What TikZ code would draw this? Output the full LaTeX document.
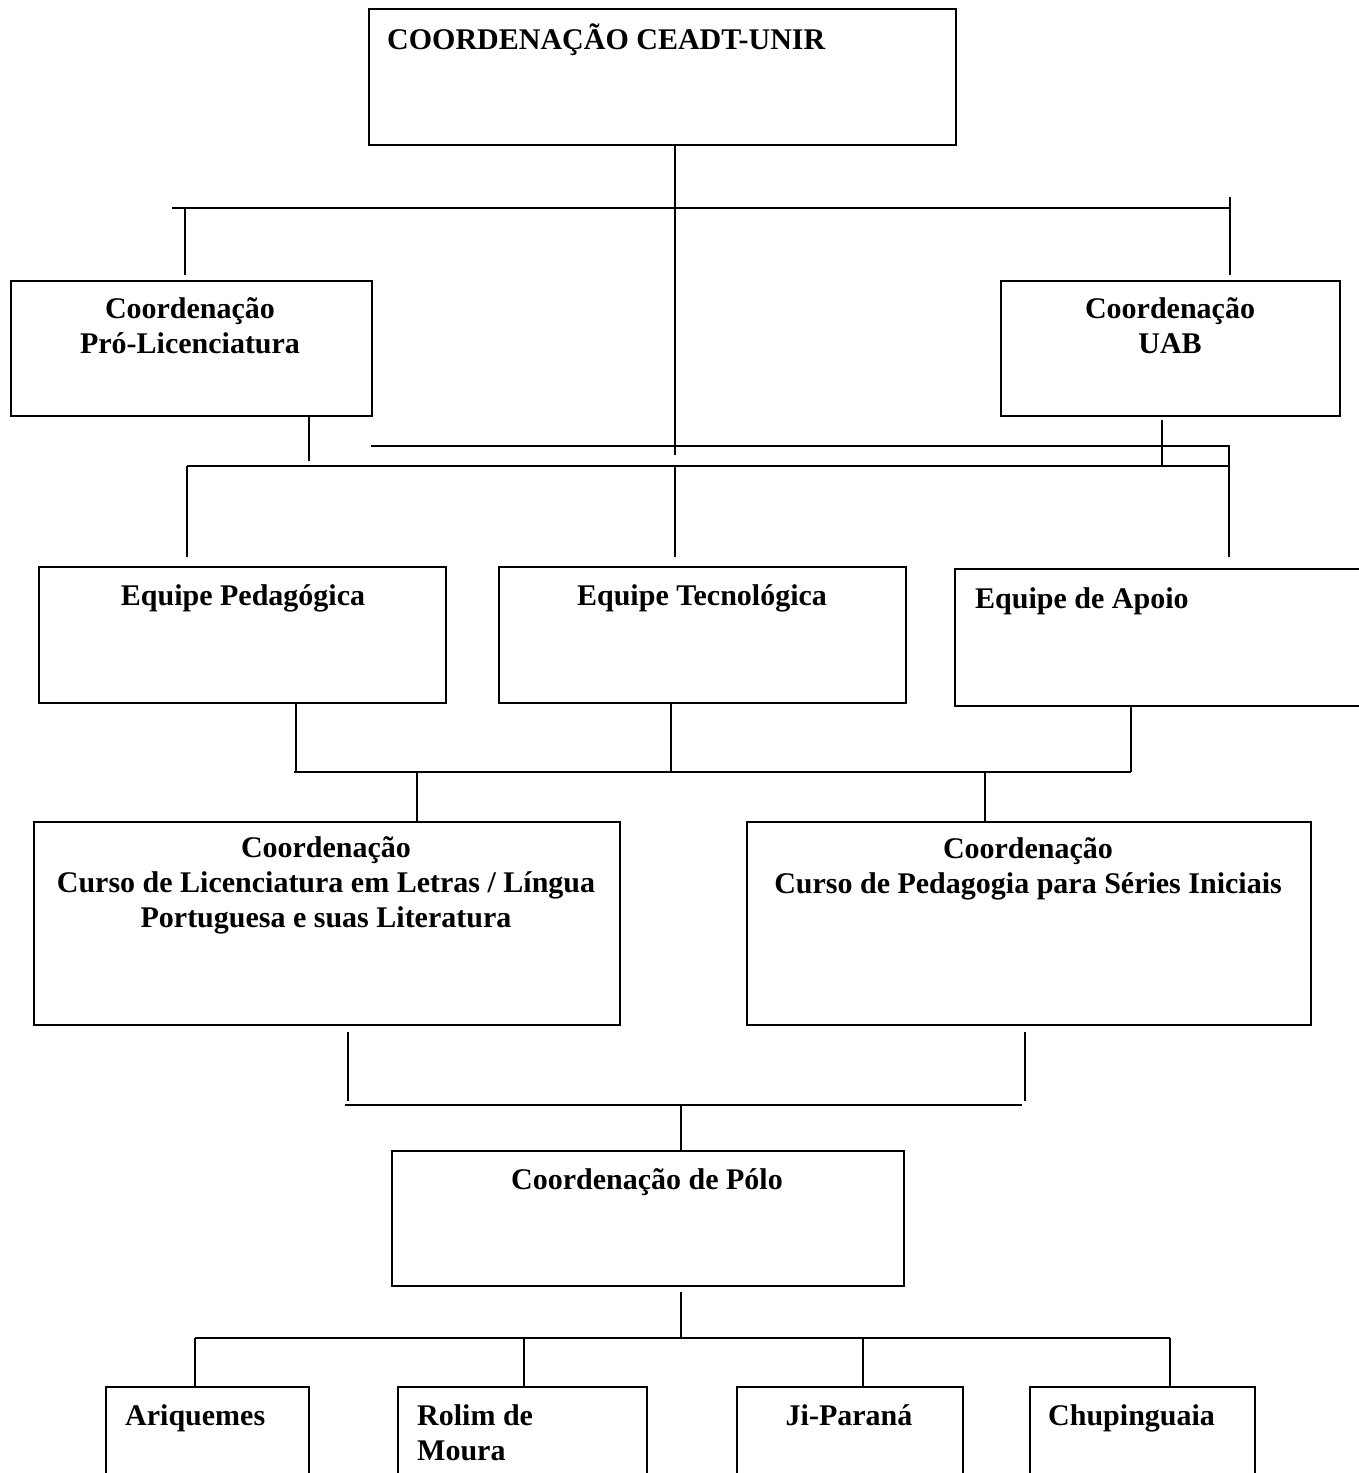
\documentclass[tikz,border=0pt]{standalone}
\usepackage{fontspec}
\setmainfont{Liberation Serif}
\begin{document}
\begin{tikzpicture}[x=1pt,y=-1pt,
  caixa/.style={draw,line width=2pt,inner sep=0pt,anchor=north west},
  rotulo/.style={font=\bfseries\fontsize{30}{35}\selectfont,align=center,anchor=base,inner sep=0pt},
  liga/.style={line width=2pt}]

\useasboundingbox (0,0) rectangle (1359,1473);
\clip (0,0) rectangle (1359,1473);

% caixas
\node[caixa,minimum width=587pt,minimum height=136pt] (ceadt) at (368,8) {};
\node[caixa,minimum width=361pt,minimum height=135pt] (prolic) at (10,280) {};
\node[caixa,minimum width=339pt,minimum height=135pt] (uab) at (1000,280) {};
\node[caixa,minimum width=407pt,minimum height=136pt] (pedag) at (38,566) {};
\node[caixa,minimum width=407pt,minimum height=136pt] (tecno) at (498,566) {};
\node[caixa,minimum width=420pt,minimum height=137pt] (apoio) at (954,568) {};
\node[caixa,minimum width=586pt,minimum height=203pt] (letras) at (33,821) {};
\node[caixa,minimum width=564pt,minimum height=203pt] (pedcurso) at (746,821) {};
\node[caixa,minimum width=512pt,minimum height=135pt] (polo) at (391,1150) {};
\node[caixa,minimum width=203pt,minimum height=120pt] (ariq) at (105,1386) {};
\node[caixa,minimum width=249pt,minimum height=120pt] (rolim) at (397,1386) {};
\node[caixa,minimum width=226pt,minimum height=120pt] (jipa) at (736,1386) {};
\node[caixa,minimum width=225pt,minimum height=120pt] (chupi) at (1029,1386) {};

% textos (base = linha de base da ultima linha)
\node[rotulo,anchor=base west] (tceadt) at (387,49) {COORDENAÇÃO CEADT-UNIR};
\node[rotulo] (tprolic) at (190,353) {Coordenação\\Pró-Licenciatura};
\node[rotulo] (tuab) at (1170,353) {Coordenação\\UAB};
\node[rotulo] (tpedag) at (243,605) {Equipe Pedagógica};
\node[rotulo] (ttecno) at (702,605) {Equipe Tecnológica};
\node[rotulo,anchor=base west] (tapoio) at (975,608) {Equipe de Apoio};
\node[rotulo] (tletras) at (326,927) {Coordenação\\Curso de Licenciatura em Letras / Língua\\Portuguesa e suas Literatura};
\node[rotulo] (tpedcurso) at (1028,893) {Coordenação\\Curso de Pedagogia para Séries Iniciais};
\node[rotulo] (tpolo) at (647,1189) {Coordenação de Pólo};
\node[rotulo,anchor=base west] (tariq) at (125,1425) {Ariquemes};
\node[rotulo,anchor=base west,align=left] (trolim) at (417,1460) {Rolim de\\Moura};
\node[rotulo] (tjipa) at (849,1425) {Ji-Paraná};
\node[rotulo,anchor=base west] (tchupi) at (1048,1425) {Chupinguaia};

% ligacoes do topo
\coordinate (b1) at (172,208);
\coordinate (b2) at (1230,208);
\draw[liga] (b1) -- (b2);
\draw[liga] (675,0 |- ceadt.south) -- (675,455);
\draw[liga] (185,208) -- (185,275);
\draw[liga] (1230,197) -- (1230,275);

% ligacoes para as equipes
\coordinate (m1) at (371,446);
\coordinate (m2) at (1229,446);
\coordinate (m3) at (187,466);
\coordinate (m4) at (1229,466);
\draw[liga] (m1) -- (m2) -- (1229,557);
\draw[liga] (m3) -- (m4);
\draw[liga] (309,0 |- prolic.south) -- (309,461);
\draw[liga] (1162,420) -- (1162,466);
\draw[liga] (m3) -- (187,557);
\draw[liga] (675,466) -- (675,557);

% equipes para cursos
\coordinate (e1) at (294,772);
\coordinate (e2) at (1131,772);
\draw[liga] (e1) -- (e2);
\draw[liga] (296,0 |- pedag.south) -- (296,772);
\draw[liga] (671,0 |- tecno.south) -- (671,772);
\draw[liga] (1131,0 |- apoio.south) -- (e2);
\draw[liga] (417,772) -- (417,0 |- letras.north);
\draw[liga] (985,772) -- (985,0 |- pedcurso.north);

% cursos para polo
\coordinate (p1) at (345,1105);
\coordinate (p2) at (1022,1105);
\draw[liga] (p1) -- (p2);
\draw[liga] (348,1032) -- (348,1101);
\draw[liga] (1025,1032) -- (1025,1101);
\draw[liga] (681,1105) -- (681,0 |- polo.north);

% polo para municipios
\coordinate (q1) at (195,1338);
\coordinate (q2) at (1170,1338);
\draw[liga] (681,1292) -- (681,1338);
\draw[liga] (q1) -- (q2);
\draw[liga] (q1) -- (195,0 |- ariq.north);
\draw[liga] (524,1338) -- (524,0 |- rolim.north);
\draw[liga] (863,1338) -- (863,0 |- jipa.north);
\draw[liga] (q2) -- (1170,0 |- chupi.north);
\end{tikzpicture}
\end{document}
